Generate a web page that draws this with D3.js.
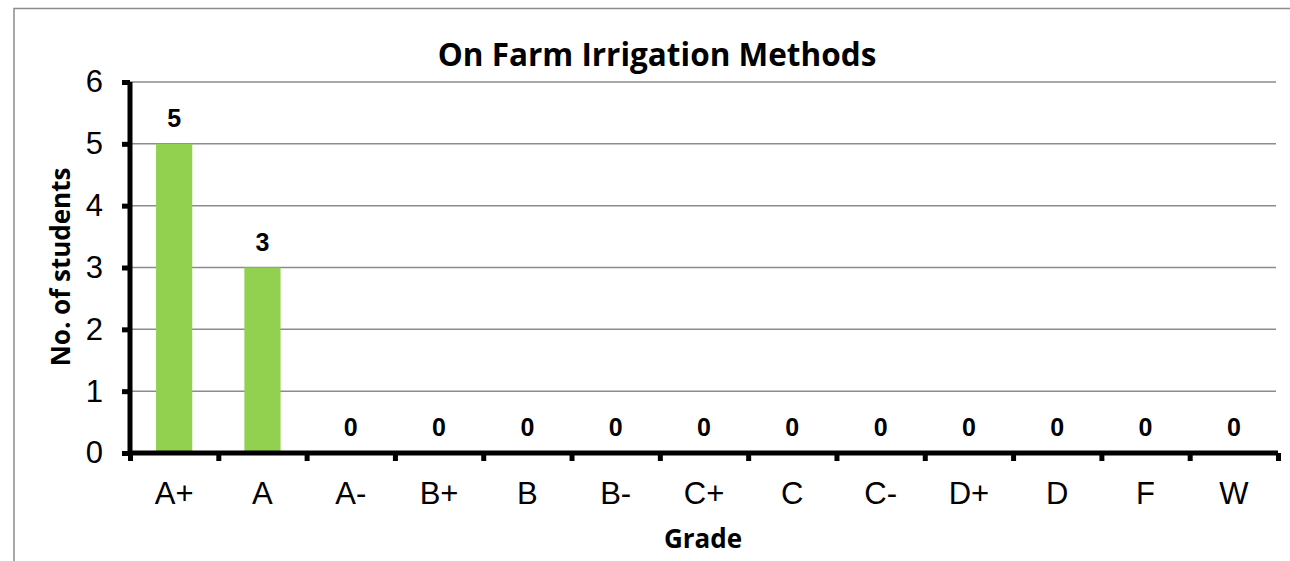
<!DOCTYPE html>
<html>
<head>
<meta charset="utf-8">
<script src="https://cdn.jsdelivr.net/npm/d3@7"></script>
<style>
  body { margin: 0; background: #fff; }
  svg { display: block; }
</style>
</head>
<body>
<div id="chart"></div>
<script>
/** Data */

var grades = ['A+', 'A', 'A-', 'B+', 'B', 'B-', 'C+', 'C', 'C-', 'D+', 'D', 'F', 'W'];
var students = [5, 3, 0, 0, 0, 0, 0, 0, 0, 0, 0, 0, 0];
var yTicks = [0, 1, 2, 3, 4, 5, 6];

var chartTitle = "On Farm Irrigation Methods";
var xTitle = "Grade";
var yTitle = "No. of students";

/** Layout */

var W = 1290, H = 561;
var margin = {top: 82, right: 12, bottom: 108, left: 130};
var width = 1278 - margin.left;
var height = 453 - margin.top;

var svg = d3.select("#chart")
  .append("svg")
    .attr("width", W)
    .attr("height", H);

// outer chart frame (only left and top edges are visible)
svg.append("path")
  .attr("d", "M14,561 V8.5 H1290")
  .attr("fill", "none")
  .attr("stroke", "#8c8c8c")
  .attr("stroke-width", 1.5);

var g = svg.append("g")
  .attr("transform", "translate(" + margin.left + "," + margin.top + ")");

var x = d3.scaleBand()
  .domain(grades)
  .range([0, width])
  .paddingInner(0.59)
  .paddingOuter(0.295);

var xTickScale = d3.scaleLinear()
  .domain([0, grades.length])
  .range([0, width]);

var y = d3.scaleLinear()
  .domain([0, 6])
  .range([height, 0]);

// gridlines
g.append("g")
  .selectAll("line")
  .data(yTicks.filter(function(d) { return d > 0; }))
  .enter()
  .append("line")
    .attr("x1", 0)
    .attr("x2", width - 2)
    .attr("y1", function(d) { return y(d); })
    .attr("y2", function(d) { return y(d); })
    .attr("stroke", "#8c8c8c")
    .attr("stroke-width", 1.5);

// bars
g.selectAll(".bar")
  .data(grades)
  .enter()
  .append("rect")
    .attr("class", "bar")
    .attr("x", function(d) { return x(d); })
    .attr("width", x.bandwidth())
    .attr("y", function(d, i) { return y(students[i]); })
    .attr("height", function(d, i) { return height - y(students[i]); })
    .attr("fill", "#92d050");

// value labels
g.selectAll(".val")
  .data(grades)
  .enter()
  .append("text")
    .attr("class", "val")
    .attr("x", function(d) { return x(d) + x.bandwidth() / 2; })
    .attr("y", function(d, i) { return y(students[i]) - 17; })
    .attr("text-anchor", "middle")
    .style("font-family", "Arial, 'Liberation Sans', sans-serif")
    .style("font-weight", "bold")
    .style("font-size", "25px")
    .text(function(d, i) { return students[i]; });

// Y axis
var yAxis = g.append("g")
  .call(d3.axisLeft(y).tickValues(yTicks).tickFormat(d3.format("d")).tickSize(8).tickPadding(19));
yAxis.select(".domain")
  .attr("stroke", "#000")
  .attr("stroke-width", 5)
  .attr("d", "M0," + (height + 2) + "V0");
yAxis.selectAll(".tick line")
  .attr("stroke", "#000")
  .attr("stroke-width", 5);
yAxis.selectAll(".tick text")
  .style("font-family", "Arial, 'Liberation Sans', sans-serif")
  .style("font-size", "31px")
  .attr("fill", "#000");

// X axis
var xAxis = g.append("g")
  .attr("transform", "translate(0," + height + ")")
  .call(d3.axisBottom(xTickScale).tickValues(d3.range(grades.length + 1)).tickSize(8).tickFormat(""));
xAxis.select(".domain")
  .attr("stroke", "#000")
  .attr("stroke-width", 5)
  .attr("d", "M-2,0H" + width);
xAxis.selectAll(".tick line")
  .attr("stroke", "#000")
  .attr("stroke-width", 5);

g.append("g")
  .selectAll("text")
  .data(grades)
  .enter()
  .append("text")
    .attr("x", function(d) { return x(d) + x.bandwidth() / 2; })
    .attr("y", height + 51)
    .attr("text-anchor", "middle")
    .style("font-family", "Arial, 'Liberation Sans', sans-serif")
    .style("font-size", "31px")
    .text(function(d) { return d; });

// titles
svg.append("text")
  .attr("x", 657)
  .attr("y", 66)
  .attr("text-anchor", "middle")
  .style("font-family", "'Open Sans', sans-serif")
  .style("font-weight", "bold")
  .style("font-size", "31.5px")
  .text(chartTitle);

svg.append("text")
  .attr("x", 703)
  .attr("y", 548)
  .attr("text-anchor", "middle")
  .style("font-family", "'Open Sans', sans-serif")
  .style("font-weight", "bold")
  .style("font-size", "26px")
  .text(xTitle);

svg.append("text")
  .attr("transform", "translate(70,267) rotate(-90)")
  .attr("text-anchor", "middle")
  .style("font-family", "'Open Sans', sans-serif")
  .style("font-weight", "bold")
  .style("font-size", "26px")
  .text(yTitle);
</script>
</body>
</html>
